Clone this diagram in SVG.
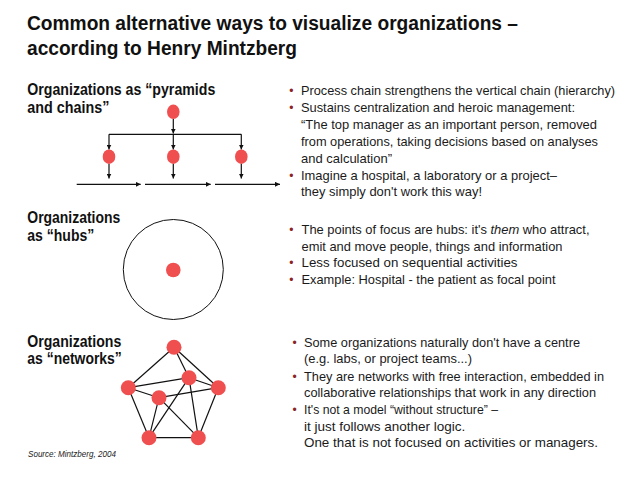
<svg xmlns="http://www.w3.org/2000/svg" width="638" height="479" viewBox="0 0 638 479">
<defs>
<marker id="ah" viewBox="0 0 6 6" refX="6" refY="3" markerWidth="5" markerHeight="5" markerUnits="userSpaceOnUse" orient="auto">
<path d="M0,0 L6,3 L0,6 z" fill="#111"/>
</marker>
<style>
.title{font-family:"Liberation Sans",Arial,sans-serif;font-weight:bold;font-size:20px;fill:#111}
.head{font-family:"Liberation Sans",Arial,sans-serif;font-weight:bold;font-size:16px;fill:#111}
.body{font-family:"Liberation Sans",Arial,sans-serif;font-size:13.5px;fill:#1a1a1a}
.bul{font-family:"Liberation Sans",Arial,sans-serif;font-size:12px;fill:#8b2323}
.src{font-family:"Liberation Sans",Arial,sans-serif;font-style:italic;font-size:9px;fill:#222}
.node{fill:#ef4f4f}
.ln{stroke:#111;stroke-width:1.2;fill:none}
.arr{stroke:#111;stroke-width:1.2;fill:none;marker-end:url(#ah)}
.ring{stroke:#111;stroke-width:1;fill:none}
</style>
</defs>
<rect width="638" height="479" fill="#fff"/>

<g id="title">
<text class="title" x="27" y="30" textLength="491" lengthAdjust="spacingAndGlyphs">Common alternative ways to visualize organizations –</text>
<text class="title" x="27" y="55" textLength="270" lengthAdjust="spacingAndGlyphs">according to Henry Mintzberg</text>
</g>

<g id="headings">
<text class="head" x="27.3" y="94.5" textLength="188" lengthAdjust="spacingAndGlyphs">Organizations as “pyramids</text>
<text class="head" x="27.3" y="112.5" textLength="82" lengthAdjust="spacingAndGlyphs">and chains”</text>
<text class="head" x="27.3" y="222.5" textLength="93" lengthAdjust="spacingAndGlyphs">Organizations</text>
<text class="head" x="27.3" y="240.5" textLength="67" lengthAdjust="spacingAndGlyphs">as “hubs”</text>
<text class="head" x="27.3" y="346.5" textLength="94" lengthAdjust="spacingAndGlyphs">Organizations</text>
<text class="head" x="27.3" y="364" textLength="94.5" lengthAdjust="spacingAndGlyphs">as “networks”</text>
</g>

<g id="connectors">
<path class="arr" d="M173.3 119 V133.6"/>
<path class="ln" d="M109 134.3 H241.3"/>
<path class="arr" d="M109 134.3 V149.5"/>
<path class="arr" d="M173.3 134.3 V149.5"/>
<path class="arr" d="M241.3 134.3 V149.5"/>
<path class="arr" d="M109 163.8 V178.5"/>
<path class="arr" d="M173.3 163.8 V178.5"/>
<path class="arr" d="M241.3 163.8 V178.5"/>
<path class="arr" d="M76.7 184.3 H140.7"/>
<path class="arr" d="M145 184.3 H210.7"/>
<path class="arr" d="M215 184.3 H280"/>
<g class="ln">
<line x1="174" y1="347.3" x2="128.3" y2="387.7"/>
<line x1="174" y1="347.3" x2="189" y2="377.7"/>
<line x1="174" y1="347.3" x2="218.3" y2="387.7"/>
<line x1="128.3" y1="387.7" x2="189" y2="377.7"/>
<line x1="128.3" y1="387.7" x2="159" y2="397.7"/>
<line x1="128.3" y1="387.7" x2="149" y2="437.7"/>
<line x1="189" y1="377.7" x2="218.3" y2="387.7"/>
<line x1="189" y1="377.7" x2="149" y2="437.7"/>
<line x1="189" y1="377.7" x2="198.3" y2="437.7"/>
<line x1="159" y1="397.7" x2="218.3" y2="387.7"/>
<line x1="159" y1="397.7" x2="149" y2="437.7"/>
<line x1="159" y1="397.7" x2="198.3" y2="437.7"/>
<line x1="218.3" y1="387.7" x2="198.3" y2="437.7"/>
<line x1="149" y1="437.7" x2="198.3" y2="437.7"/>
</g>
</g>

<g id="pyr-top"><ellipse class="node" cx="173.3" cy="111.8" rx="6.3" ry="7.2"/></g>
<g id="pyr-left"><ellipse class="node" cx="109" cy="156.7" rx="6.3" ry="7.2"/></g>
<g id="pyr-mid"><ellipse class="node" cx="173.3" cy="156.7" rx="6.3" ry="7.2"/></g>
<g id="pyr-right"><ellipse class="node" cx="241.3" cy="156.7" rx="6.3" ry="7.2"/></g>

<g id="hub-ring"><circle class="ring" cx="173.3" cy="269.5" r="50"/></g>
<g id="hub-center"><circle class="node" cx="173.3" cy="270" r="7.3"/></g>

<g id="net-top"><circle class="node" cx="174" cy="347.3" r="7.5"/></g>
<g id="net-midtop"><circle class="node" cx="189" cy="377.7" r="7.5"/></g>
<g id="net-left"><circle class="node" cx="128.3" cy="387.7" r="7.5"/></g>
<g id="net-right"><circle class="node" cx="218.3" cy="387.7" r="7.5"/></g>
<g id="net-inner"><circle class="node" cx="159" cy="397.7" r="7.5"/></g>
<g id="net-bl"><circle class="node" cx="149" cy="437.7" r="7.5"/></g>
<g id="net-br"><circle class="node" cx="198.3" cy="437.7" r="7.5"/></g>

<g id="text-pyramids">
<text class="bul" x="289.3" y="95">•</text>
<text class="body" x="301" y="95" textLength="314" lengthAdjust="spacingAndGlyphs">Process chain strengthens the vertical chain (hierarchy)</text>
<text class="bul" x="289.3" y="112">•</text>
<text class="body" x="301" y="112" textLength="274" lengthAdjust="spacingAndGlyphs">Sustains centralization and heroic management:</text>
<text class="body" x="301" y="129" textLength="296" lengthAdjust="spacingAndGlyphs">“The top manager as an important person, removed</text>
<text class="body" x="301" y="146" textLength="297" lengthAdjust="spacingAndGlyphs">from operations, taking decisions based on analyses</text>
<text class="body" x="301" y="162.5" textLength="91" lengthAdjust="spacingAndGlyphs">and calculation”</text>
<text class="bul" x="289.3" y="179.5">•</text>
<text class="body" x="301" y="179.5" textLength="256" lengthAdjust="spacingAndGlyphs">Imagine a hospital, a laboratory or a project–</text>
<text class="body" x="301" y="196" textLength="181" lengthAdjust="spacingAndGlyphs">they simply don't work this way!</text>
</g>

<g id="text-hubs">
<text class="bul" x="289.3" y="234">•</text>
<text class="body" x="301.5" y="234" textLength="288" lengthAdjust="spacingAndGlyphs">The points of focus are hubs: it's <tspan font-style="italic">them</tspan> who attract,</text>
<text class="body" x="301.5" y="250.5" textLength="261" lengthAdjust="spacingAndGlyphs">emit and move people, things and information</text>
<text class="bul" x="289.3" y="267">•</text>
<text class="body" x="301.5" y="267" textLength="216" lengthAdjust="spacingAndGlyphs">Less focused on sequential activities</text>
<text class="bul" x="289.3" y="283.5">•</text>
<text class="body" x="301.5" y="283.5" textLength="254" lengthAdjust="spacingAndGlyphs">Example: Hospital - the patient as focal point</text>
</g>

<g id="text-networks">
<text class="bul" x="292.6" y="346.5">•</text>
<text class="body" x="304" y="346.5" textLength="276" lengthAdjust="spacingAndGlyphs">Some organizations naturally don't have a centre</text>
<text class="body" x="304" y="363" textLength="168" lengthAdjust="spacingAndGlyphs">(e.g. labs, or project teams...)</text>
<text class="bul" x="292.6" y="380.5">•</text>
<text class="body" x="304" y="380.5" textLength="300" lengthAdjust="spacingAndGlyphs">They are networks with free interaction, embedded in</text>
<text class="body" x="304" y="397" textLength="292" lengthAdjust="spacingAndGlyphs">collaborative relationships that work in any direction</text>
<text class="bul" x="292.6" y="414">•</text>
<text class="body" x="304" y="414" textLength="194" lengthAdjust="spacingAndGlyphs">It's not a model “without structure” –</text>
<text class="body" x="304" y="430.5">it just follows another logic.</text>
<text class="body" x="304" y="447" textLength="294" lengthAdjust="spacingAndGlyphs">One that is not focused on activities or managers.</text>
</g>

<g id="source">
<text class="src" x="28" y="456.5" textLength="88" lengthAdjust="spacingAndGlyphs">Source: Mintzberg, 2004</text>
</g>
</svg>
